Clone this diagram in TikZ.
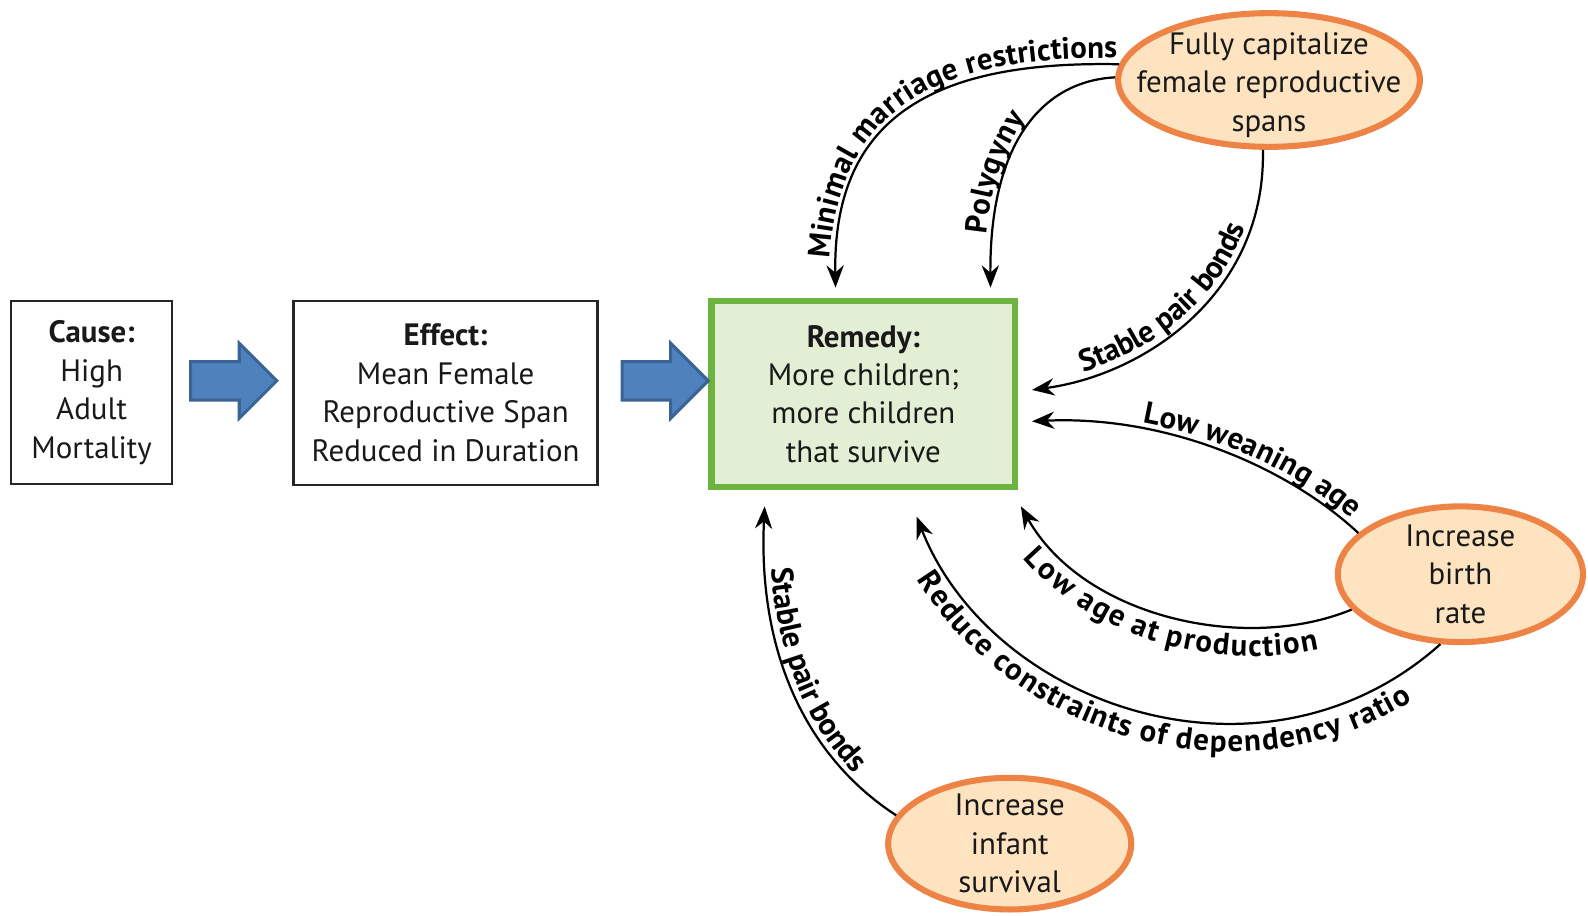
\documentclass[tikz,border=0pt]{standalone}
\usepackage{fontspec}
\setmainfont{PT Sans}
\usetikzlibrary{arrows.meta,shapes.geometric,decorations.text,calc}
\definecolor{boxgreen}{HTML}{6CB33F}
\definecolor{fillgreen}{HTML}{E3EFD4}
\definecolor{ellorange}{HTML}{EE8346}
\definecolor{fillorange}{HTML}{FDE3BF}
\definecolor{arrblue}{HTML}{4F81BD}
\definecolor{arrblueline}{HTML}{3A6396}
\newcommand\lblfont{\fontsize{30.5}{33}\selectfont\bfseries}
\tikzset{
  txt/.style={font=\fontsize{30.5}{38}\selectfont, align=center, text=black!90},
  plainbox/.style={txt, draw=black!85, line width=2.5pt, rectangle, inner sep=0pt},
  remedybox/.style={txt, draw=boxgreen, fill=fillgreen, line width=6pt, rectangle, inner sep=0pt},
  oval/.style={ellipse, draw=ellorange, fill=fillorange, line width=6pt, inner sep=0pt},
  blockarr/.style={fill=arrblue, draw=arrblueline, line width=3pt, line join=miter},
  conn/.style={line width=2.2pt, draw=black, arrows={Stealth[length=22pt,width=17pt]-}},
}
\begin{document}
\begin{tikzpicture}[x=1pt,y=-1pt]
\useasboundingbox (0,0) rectangle (1568,904);

% boxes
\node[plainbox, minimum width=159pt, minimum height=181pt] (cause) at (90.5,387.5)
  {\textbf{Cause:}\\High\\Adult\\Mortality};
\node[plainbox, minimum width=300pt, minimum height=182pt] (effect) at (440,388)
  {\textbf{Effect:}\\Mean Female\\Reproductive Span\\Reduced in Duration};
\node[remedybox, minimum width=300pt, minimum height=183pt] (remedy) at (852.5,389)
  {\textbf{Remedy:}\\More children;\\more children\\that survive};

% ellipses
\node[oval, minimum width=298pt, minimum height=132pt] (fully) at (1253,79) {};
\node[txt] (fullytxt) at (1253,84) {Fully capitalize\\female reproductive\\spans};
\node[oval, minimum width=242pt, minimum height=134pt] (birth) at (1442,567) {};
\node[txt] (birthtxt) at (1442,567) {Increase\\birth\\rate};
\node[oval, minimum width=240pt, minimum height=130pt] (infant) at (997,833) {};
\node[txt] (infanttxt) at (997,833) {Increase\\infant\\survival};

% block arrows
\draw[blockarr] ($(cause.east)+(17,-30.5)$) -- ++(48,0) -- ++(0,-18) -- ++(37,37)
  -- ++(-37,37) -- ++(0,-18) -- ++(-48,0) -- cycle;
\draw[blockarr] ($(effect.east)+(23,-31)$) -- ++(48,0) -- ++(0,-18) -- ++(37,37)
  -- ++(-37,37) -- ++(0,-18) -- ++(-48,0) -- cycle;

% arrow ends near the remedy box
\coordinate (tMin) at (825,284);
\coordinate (tPoly) at (978,284);
\coordinate (tStabTop) at (1019,385);
\coordinate (tWean) at (1019,416);
\coordinate (tAge) at (1008,500);
\coordinate (tRed) at (905,510);
\coordinate (tStabBot) at (755,500);

% connectors
\draw[conn, postaction={decorate, decoration={text along path,
    text={|\lblfont|Minimal marriage restrictions}, text align={align=right, right indent=2pt}, raise=6pt}}]
  (tMin) .. controls (822,110) and (930,60) .. (fully.174);
\draw[conn, postaction={decorate, decoration={text along path,
    text={|\lblfont|Polygyny}, text align={align=left, left indent=52pt}, raise=6pt}}]
  (tPoly) .. controls (977,140) and (1030,80) .. (fully.179);
\draw[conn, postaction={decorate, decoration={text along path,
    text={|\lblfont|Stable pair bonds}, text align={align=left, left indent=54pt}, raise=6pt}}]
  (tStabTop) .. controls (1130,370) and (1250,290) .. (fully.265);
\draw[conn, postaction={decorate, decoration={text along path,
    text={|\lblfont|Low weaning age}, text align={align=right, right indent=14pt}, raise=6pt}}]
  (tWean) .. controls (1150,410) and (1270,460) .. (birth.158);
\draw[conn, postaction={decorate, decoration={text along path,
    text={|\lblfont|Low age at production}, text align=center, raise=-28pt}}]
  (tAge) .. controls (1070,610) and (1230,645) .. (birth.198);
\draw[conn, postaction={decorate, decoration={text along path,
    text={|\lblfont|Reduce constraints of dependency ratio}, text align=center, raise=-28pt}}]
  (tRed) .. controls (980,700) and (1250,790) .. (birth.254);
\draw[conn, postaction={decorate, decoration={text along path,
    text={|\lblfont|Stable pair bonds}, text align={align=left, left indent=62pt}, raise=6pt}}]
  (tStabBot) .. controls (748,650) and (800,750) .. (infant.166);
\end{tikzpicture}
\end{document}
